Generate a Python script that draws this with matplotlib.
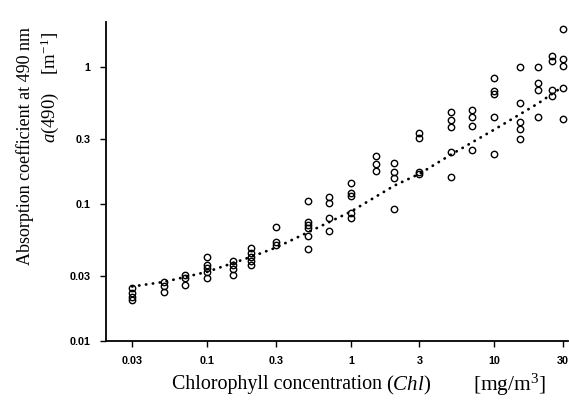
import matplotlib
matplotlib.use("Agg")
import matplotlib.pyplot as plt
from matplotlib.ticker import FixedLocator, FixedFormatter, NullLocator

# ---- data ----
chl_levels = [0.03, 0.05, 0.07, 0.1, 0.15, 0.2, 0.3, 0.5, 0.7, 1, 1.5, 2,
              3, 5, 7, 10, 15, 20, 25, 30]
a490_values = [
    [0.0243, 0.0223, 0.0210, 0.0199],
    [0.0271, 0.0252, 0.0229],
    [0.0303, 0.0287, 0.0256],
    [0.0412, 0.0359, 0.0339, 0.0321, 0.0287],
    [0.0384, 0.0359, 0.0334, 0.0303],
    [0.0475, 0.0437, 0.0412, 0.0384, 0.0359],
    [0.0683, 0.0530, 0.0502],
    [0.1057, 0.0743, 0.0703, 0.0665, 0.0584, 0.0467],
    [0.113, 0.101, 0.0787, 0.063],
    [0.1416, 0.1197, 0.1143, 0.0859, 0.079],
    [0.224, 0.196, 0.175],
    [0.198, 0.172, 0.154, 0.0915],
    [0.331, 0.302, 0.172, 0.166],
    [0.472, 0.410, 0.367, 0.241, 0.157],
    [0.485, 0.434, 0.371, 0.248],
    [0.826, 0.671, 0.635, 0.430, 0.231],
    [0.995, 0.543, 0.399, 0.351, 0.297],
    [1.00, 0.768, 0.680, 0.434],
    [1.20, 1.11, 0.680, 0.614],
    [1.88, 1.14, 1.02, 0.70, 0.417],
]

fit_chl = [0.03, 0.05, 0.1, 0.2, 0.3, 0.5, 1, 2, 3, 5, 10, 20, 30]
fit_a = [0.025, 0.027, 0.032, 0.041, 0.048, 0.062, 0.088, 0.136, 0.166,
         0.23, 0.35, 0.54, 0.72]

x_ticks = [0.03, 0.1, 0.3, 1, 3, 10, 30]
x_tick_labels = ["0.03", "0.1", "0.3", "1", "3", "10", "30"]
y_ticks = [0.01, 0.03, 0.1, 0.3, 1]
y_tick_labels = ["0.01", "0.03", "0.1", "0.3", "1"]

# ---- fonts ----
plt.rcParams['font.family'] = ['Liberation Serif', 'DejaVu Serif']
plt.rcParams['mathtext.fontset'] = 'custom'
plt.rcParams['mathtext.rm'] = 'Liberation Serif'
plt.rcParams['mathtext.it'] = 'Liberation Serif:italic'

W, H = 569, 400
fig = plt.figure(figsize=(W / 100, H / 100), dpi=100)
ax = fig.add_axes([106 / W, 1 - 341 / H, (568 - 106) / W, (341 - 22) / H])

xs, ys = [], []
for c, vals in zip(chl_levels, a490_values):
    for v in vals:
        xs.append(c)
        ys.append(v)

ax.plot(fit_chl, fit_a, color='black', linestyle=(0, (0.1, 2.4)),
        linewidth=2.0, dash_capstyle='round', zorder=2)
ax.plot(xs, ys, linestyle='none', marker='o', markersize=4.6,
        markerfacecolor='none', markeredgecolor='black',
        markeredgewidth=1.0, zorder=3)

ax.set_xscale('log')
ax.set_yscale('log')
ax.set_xlim(0.0197, 32.5)
ax.set_ylim(0.01, 2.13)

ax.xaxis.set_major_locator(FixedLocator(x_ticks))
ax.xaxis.set_major_formatter(FixedFormatter(x_tick_labels))
ax.xaxis.set_minor_locator(NullLocator())
ax.yaxis.set_major_locator(FixedLocator(y_ticks))
ax.yaxis.set_major_formatter(FixedFormatter(y_tick_labels))
ax.yaxis.set_minor_locator(NullLocator())

for lab in ax.get_xticklabels() + ax.get_yticklabels():
    lab.set_family('Liberation Sans')
    lab.set_fontweight('bold')
    lab.set_fontsize(7.8)

ax.tick_params(direction='out', length=4, width=1.0, pad=7)
ax.spines['top'].set_visible(False)
ax.spines['right'].set_visible(False)
ax.spines['left'].set_linewidth(1.3)
ax.spines['bottom'].set_linewidth(1.3)

# x label in three pieces to follow the reference's spacing
yl = 1 - 385 / H
fig.text(172 / W, yl, "Chlorophyll concentration",
         ha='left', va='center', fontsize=14.4)
fig.text(386 / W, yl, r"($\mathit{Chl}$)",
         ha='left', va='center', fontsize=15)
fig.text(510 / W, yl, r"[mg/m$^3$]",
         ha='center', va='center', fontsize=15.5)

fig.text(25 / W, 1 - 146 / H, "Absorption coefficient at 490 nm",
         rotation=90, ha='center', va='center', fontsize=13)
fig.text(50 / W, 1 - 87 / H, r"$\mathit{a}$(490)    [m$^{-1}$]",
         rotation=90, ha='center', va='center', fontsize=13.5)

fig.savefig("out.png", dpi=100)
